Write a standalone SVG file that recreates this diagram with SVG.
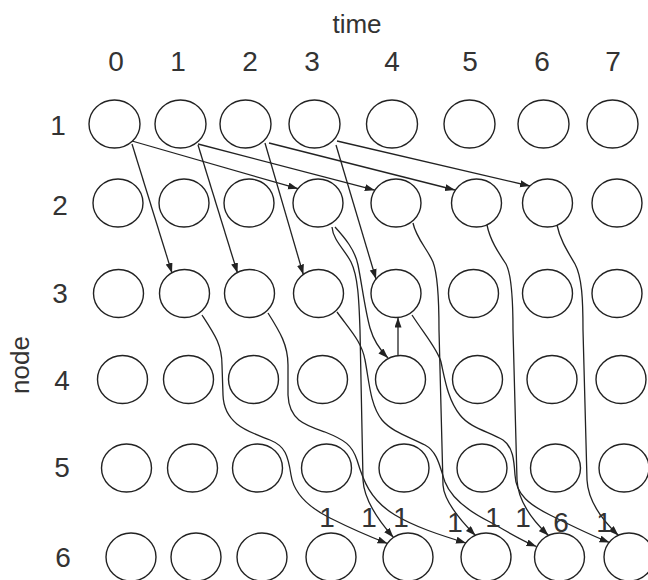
<svg xmlns="http://www.w3.org/2000/svg" width="648" height="580" viewBox="0 0 648 580">
<style>
.n{fill:none;stroke:#222;stroke-width:1.4}
.e{fill:none;stroke:#222;stroke-width:1.3;marker-end:url(#ah)}
.t{font-family:"Liberation Sans",Arial,sans-serif;font-size:28px;fill:#333;text-anchor:middle}
.w{font-family:"Liberation Sans",Arial,sans-serif;font-size:26px;fill:#333;text-anchor:middle}
</style>
<defs>
<marker id="ah" markerUnits="userSpaceOnUse" markerWidth="11" markerHeight="8" refX="10" refY="3.5" orient="auto">
<path d="M0,0 L10,3.5 L0,7 z" fill="#222"/>
</marker>
</defs>
<rect width="648" height="580" fill="#fff"/>
<g id="labels">
<text class="w" x="357" y="33">time</text>
<text class="t" x="116" y="71">0</text>
<text class="t" x="178" y="71">1</text>
<text class="t" x="250" y="71">2</text>
<text class="t" x="312" y="71">3</text>
<text class="t" x="392" y="71">4</text>
<text class="t" x="470" y="71">5</text>
<text class="t" x="542" y="71">6</text>
<text class="t" x="613" y="71">7</text>
<text class="w" transform="translate(29,365) rotate(-90)">node</text>
<text class="t" x="58" y="135">1</text>
<text class="t" x="60" y="215">2</text>
<text class="t" x="60" y="303">3</text>
<text class="t" x="62" y="390">4</text>
<text class="t" x="62" y="477">5</text>
<text class="t" x="63" y="567">6</text>
</g>
<g id="row1">
<g id="n1_0"><ellipse class="n" cx="114.5" cy="124" rx="25.5" ry="24"/></g>
<g id="n1_1"><ellipse class="n" cx="180.5" cy="124" rx="25.5" ry="24"/></g>
<g id="n1_2"><ellipse class="n" cx="245.5" cy="124" rx="25.5" ry="24"/></g>
<g id="n1_3"><ellipse class="n" cx="314.5" cy="124" rx="25.5" ry="24"/></g>
<g id="n1_4"><ellipse class="n" cx="392" cy="124" rx="25.5" ry="24"/></g>
<g id="n1_5"><ellipse class="n" cx="469.5" cy="124" rx="25.5" ry="24"/></g>
<g id="n1_6"><ellipse class="n" cx="543.5" cy="124" rx="25.5" ry="24"/></g>
<g id="n1_7"><ellipse class="n" cx="612.5" cy="124" rx="25.5" ry="24"/></g>
</g>
<g id="row2">
<g id="n2_0"><ellipse class="n" cx="118" cy="203" rx="25" ry="24"/></g>
<g id="n2_1"><ellipse class="n" cx="184" cy="203" rx="25" ry="24"/></g>
<g id="n2_2"><ellipse class="n" cx="249" cy="203" rx="25" ry="24"/></g>
<g id="n2_3"><ellipse class="n" cx="318" cy="203" rx="25" ry="24"/></g>
<g id="n2_4"><ellipse class="n" cx="396" cy="203" rx="25" ry="24"/></g>
<g id="n2_5"><ellipse class="n" cx="476.5" cy="203" rx="25" ry="24"/></g>
<g id="n2_6"><ellipse class="n" cx="547.5" cy="203" rx="25" ry="24"/></g>
<g id="n2_7"><ellipse class="n" cx="617" cy="203" rx="25" ry="24"/></g>
</g>
<g id="row3">
<g id="n3_0"><ellipse class="n" cx="118.5" cy="293.5" rx="25" ry="24"/></g>
<g id="n3_1"><ellipse class="n" cx="184.5" cy="293.5" rx="25" ry="24"/></g>
<g id="n3_2"><ellipse class="n" cx="249.5" cy="293.5" rx="25" ry="24"/></g>
<g id="n3_3"><ellipse class="n" cx="318.5" cy="293.5" rx="25" ry="24"/></g>
<g id="n3_4"><ellipse class="n" cx="396" cy="293.5" rx="25" ry="24"/></g>
<g id="n3_5"><ellipse class="n" cx="473.5" cy="293.5" rx="25" ry="24"/></g>
<g id="n3_6"><ellipse class="n" cx="547.5" cy="293.5" rx="25" ry="24"/></g>
<g id="n3_7"><ellipse class="n" cx="617" cy="293.5" rx="25" ry="24"/></g>
</g>
<g id="row4">
<g id="n4_0"><ellipse class="n" cx="122.5" cy="379.5" rx="25" ry="24"/></g>
<g id="n4_1"><ellipse class="n" cx="188.5" cy="379.5" rx="25" ry="24"/></g>
<g id="n4_2"><ellipse class="n" cx="253.5" cy="379.5" rx="25" ry="24"/></g>
<g id="n4_3"><ellipse class="n" cx="322.5" cy="379.5" rx="25" ry="24"/></g>
<g id="n4_4"><ellipse class="n" cx="400.5" cy="379.5" rx="25" ry="24"/></g>
<g id="n4_5"><ellipse class="n" cx="477.5" cy="379.5" rx="25" ry="24"/></g>
<g id="n4_6"><ellipse class="n" cx="552" cy="379.5" rx="25" ry="24"/></g>
<g id="n4_7"><ellipse class="n" cx="621" cy="379.5" rx="25" ry="24"/></g>
</g>
<g id="row5">
<g id="n5_0"><ellipse class="n" cx="126.5" cy="468" rx="25" ry="24"/></g>
<g id="n5_1"><ellipse class="n" cx="192.5" cy="468" rx="25" ry="24"/></g>
<g id="n5_2"><ellipse class="n" cx="257.5" cy="468" rx="25" ry="24"/></g>
<g id="n5_3"><ellipse class="n" cx="326.5" cy="468" rx="25" ry="24"/></g>
<g id="n5_4"><ellipse class="n" cx="404" cy="468" rx="25" ry="24"/></g>
<g id="n5_5"><ellipse class="n" cx="482" cy="468" rx="25" ry="24"/></g>
<g id="n5_6"><ellipse class="n" cx="555.5" cy="468" rx="25" ry="24"/></g>
<g id="n5_7"><ellipse class="n" cx="624" cy="468" rx="25" ry="24"/></g>
</g>
<g id="row6">
<g id="n6_0"><ellipse class="n" cx="131" cy="557" rx="25" ry="24"/></g>
<g id="n6_1"><ellipse class="n" cx="196" cy="557" rx="25" ry="24"/></g>
<g id="n6_2"><ellipse class="n" cx="262" cy="557" rx="25" ry="24"/></g>
<g id="n6_3"><ellipse class="n" cx="331" cy="557" rx="25" ry="24"/></g>
<g id="n6_4"><ellipse class="n" cx="408" cy="557" rx="25" ry="24"/></g>
<g id="n6_5"><ellipse class="n" cx="486" cy="557" rx="25" ry="24"/></g>
<g id="n6_6"><ellipse class="n" cx="559.5" cy="557" rx="25" ry="24"/></g>
<g id="n6_7"><ellipse class="n" cx="629" cy="557" rx="25" ry="24"/></g>
</g>
<g id="connectors">
<path class="e" d="M132,141 L298,188.7"/>
<path class="e" d="M198,144 L374.8,190.2"/>
<path class="e" d="M269,143 L455,190"/>
<path class="e" d="M337,141 L530,186"/>
<path class="e" d="M132,144 L172,273"/>
<path class="e" d="M198,145 L237.5,273"/>
<path class="e" d="M265,143 L303.3,274.5"/>
<path class="e" d="M336,145 L376,279"/>
<path class="e" d="M332,227 C333,240 345,250 351,262 C358,276 359,300 360,330 L363,480 C364,500 378,520 393.5,537.5"/>
<path class="e" d="M335,227 C345,238 355,250 358,265 C362,285 365,310 370,328 C374,342 380,350 388,358"/>
<path class="e" d="M398,355.5 L398,317.5"/>
<path class="e" d="M202,315 C215,335 222,345 222,365 L223,395 C224,425 250,432 270,440 C285,446 288,455 291,475 C294,495 310,508 330,518 C348,527 368,536 387.5,543.5"/>
<path class="e" d="M268,313 C280,332 288,345 288,365 L288,395 C289,420 305,425 325,432 C345,440 352,445 357,460 C363,480 370,500 395,515 C415,527 440,535 466,543"/>
<path class="e" d="M337,312 C350,330 362,342 365,360 C369,380 370,405 382,420 C392,432 410,437 425,445 C438,452 440,468 445,482 C452,500 470,512 490,522 C505,530 520,540 536.5,546.5"/>
<path class="e" d="M412,315 C425,335 438,350 441,362 C445,380 448,400 460,415 C470,428 490,432 503,440 C513,447 514,460 515,475 C516,495 530,505 550,515 C570,525 590,535 609.5,542.5"/>
<path class="e" d="M413,223 C416,238 428,250 433,262 C438,275 439,300 439,330 L443,485 C444,500 458,518 475.5,535.5"/>
<path class="e" d="M487,225 C490,240 498,252 506,264 C512,275 513,300 513,330 L517,480 C518,500 530,518 548.5,535.5"/>
<path class="e" d="M557,225 C560,240 568,252 575,264 C582,277 583,300 583,330 L587,480 C588,500 600,518 618.5,535.5"/>
</g>
<g id="edge-labels">
<text class="t" x="327" y="527">1</text>
<text class="t" x="369" y="527">1</text>
<text class="t" x="401" y="527">1</text>
<text class="t" x="455" y="532">1</text>
<text class="t" x="493" y="527">1</text>
<text class="t" x="523" y="527">1</text>
<text class="t" x="561" y="532">6</text>
<text class="t" x="604" y="532">1</text>
</g>
</svg>
